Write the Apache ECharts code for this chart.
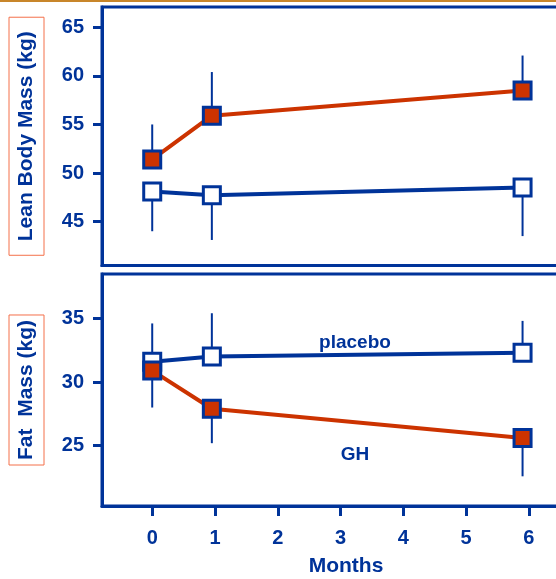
<!DOCTYPE html>
<html><head><meta charset="utf-8">
<script src="https://cdn.jsdelivr.net/npm/echarts@6/dist/echarts.min.js"></script>
<style>html,body{margin:0;padding:0;background:#fff}#chart{width:556px;height:579px}</style>
</head><body><div id="chart"></div>
<script>
// Visit months (x) and tick positions
const months = [0, 0.95, 5.9];
const monthTicks = [0, 1, 2, 3, 4, 5, 6];
const leanTicks = [45, 50, 55, 60, 65];
const fatTicks = [25, 30, 35];

// Lean body mass (kg): means and the drawn end of each error bar
const leanGH = [51.4, 55.9, 58.5];
const leanGHErrEnd = [55.0, 60.4, 62.1];
const leanPlacebo = [48.1, 47.7, 48.5];
const leanPlaceboErrEnd = [44.0, 43.1, 43.5];

// Fat mass (kg)
const fatGH = [30.9, 27.9, 25.6];
const fatGHErrEnd = [28.0, 25.2, 22.6];
const fatPlacebo = [31.6, 32.0, 32.3];
const fatPlaceboErrEnd = [34.6, 35.4, 34.8];

const BLUE = '#003399';
const RED = '#cc3300';
const FONT = "'Liberation Sans', Arial, sans-serif";

const pts = (ys) => months.map((m, i) => [m, ys[i]]);
const bars = (ys, ends) => months.map((m, i) => [m, ys[i], ends[i]]);

function errSeries(data, xi, yi) {
  return {
    type: 'custom', xAxisIndex: xi, yAxisIndex: yi, z: 1, silent: true,
    data: data,
    renderItem: (params, api) => {
      const a = api.coord([api.value(0), api.value(1)]);
      const b = api.coord([api.value(0), api.value(2)]);
      return { type: 'line', shape: { x1: a[0], y1: a[1], x2: b[0], y2: b[1] },
               style: { stroke: BLUE, lineWidth: 2 } };
    }
  };
}
function lineSeries(name, data, xi, yi, fill, lineColor, z) {
  return {
    name, type: 'line', xAxisIndex: xi, yAxisIndex: yi, z,
    data, symbol: 'rect', symbolSize: 17, showAllSymbol: true,
    lineStyle: { color: lineColor, width: 4 },
    itemStyle: { color: fill, borderColor: BLUE, borderWidth: 3 },
    emphasis: { disabled: true }, animation: false
  };
}

// The plotting boxes run a little past the right edge of the page
const GRID_W = 464;
const xMin = -0.8, xMax = -0.8 + GRID_W / 62.77;
const labelStyle = { color: BLUE, fontSize: 20, fontWeight: 'bold', fontFamily: FONT };

function yAxis(gi, min, max, ticks, name, pad) {
  return {
    type: 'value', gridIndex: gi, min, max,
    axisLine: { show: true, onZero: false, lineStyle: { color: BLUE, width: 3 } },
    axisTick: { show: true, customValues: ticks, length: 9, lineStyle: { color: BLUE, width: 3 } },
    axisLabel: Object.assign({ customValues: ticks, margin: 18 }, labelStyle),
    splitLine: { show: false },
    name, nameLocation: 'middle', nameRotate: 90, nameGap: 58,
    nameTextStyle: { color: BLUE, fontSize: 21, fontWeight: 'bold', fontFamily: FONT,
      borderColor: '#f4704a', borderWidth: 1, padding: pad }
  };
}

const gridBase = { left: 102, width: GRID_W, show: true, borderColor: BLUE, borderWidth: 3,
  containLabel: false, outerBoundsMode: 'none' };

const chart = echarts.init(document.getElementById('chart'), null, { renderer: 'canvas' });
chart.setOption({
  animation: false,
  backgroundColor: '#fff',
  grid: [
    Object.assign({ top: 7, height: 258.5 }, gridBase),
    Object.assign({ top: 274, height: 232 }, gridBase)
  ],
  xAxis: [
    { type: 'value', gridIndex: 0, min: xMin, max: xMax,
      axisLine: { show: true, onZero: false, lineStyle: { color: BLUE, width: 3 } },
      axisTick: { show: false }, axisLabel: { show: false }, splitLine: { show: false } },
    { type: 'value', gridIndex: 1, min: xMin, max: xMax,
      axisLine: { show: true, onZero: false, lineStyle: { color: BLUE, width: 3 } },
      axisTick: { show: true, customValues: monthTicks, length: 10, lineStyle: { color: BLUE, width: 3 } },
      axisLabel: Object.assign({ customValues: monthTicks, margin: 22 }, labelStyle),
      splitLine: { show: false },
      name: 'Months', nameLocation: 'middle', nameGap: 50,
      nameTextStyle: { color: BLUE, fontSize: 21, fontWeight: 'bold', fontFamily: FONT, padding: [0, 0, 0, 24] } }
  ],
  yAxis: [
    yAxis(0, 40.47, 67.1, leanTicks, 'Lean Body Mass (kg)', [7, 14, 7, 14]),
    yAxis(1, 20.27, 38.48, fatTicks, 'Fat  Mass (kg)', [7, 5, 7, 5])
  ],
  series: [
    errSeries(bars(leanPlacebo, leanPlaceboErrEnd), 0, 0),
    errSeries(bars(leanGH, leanGHErrEnd), 0, 0),
    errSeries(bars(fatPlacebo, fatPlaceboErrEnd), 1, 1),
    errSeries(bars(fatGH, fatGHErrEnd), 1, 1),
    lineSeries('placebo', pts(leanPlacebo), 0, 0, '#ffffff', BLUE, 3),
    lineSeries('GH', pts(leanGH), 0, 0, RED, RED, 4),
    lineSeries('placebo', pts(fatPlacebo), 1, 1, '#ffffff', BLUE, 3),
    lineSeries('GH', pts(fatGH), 1, 1, RED, RED, 4)
  ]
});

// Group labels placed in fat-mass data space, plus the thin rule along the top
const pLab = chart.convertToPixel({ gridIndex: 1 }, [3.23, 33.1]);
const gLab = chart.convertToPixel({ gridIndex: 1 }, [3.23, 24.3]);
const textStyle = { fill: BLUE, font: "bold 19px 'Liberation Sans', Arial, sans-serif",
  textAlign: 'center', textVerticalAlign: 'middle' };
chart.setOption({
  graphic: [
    { type: 'rect', shape: { x: 0, y: 0, width: 556, height: 2 }, style: { fill: '#c8862a' }, silent: true },
    { type: 'text', x: pLab[0], y: pLab[1], style: Object.assign({ text: 'placebo' }, textStyle), silent: true },
    { type: 'text', x: gLab[0], y: gLab[1], style: Object.assign({ text: 'GH' }, textStyle), silent: true }
  ]
});
</script>
</body></html>
